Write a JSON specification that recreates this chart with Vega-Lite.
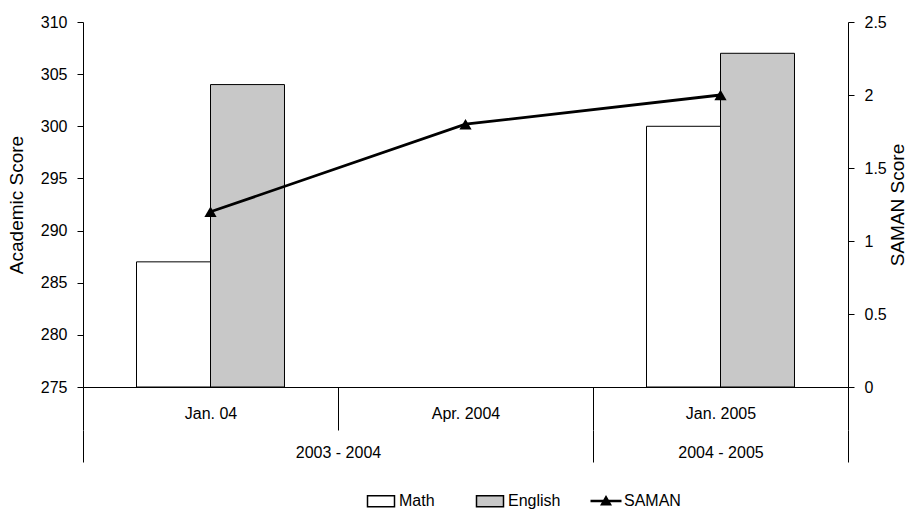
{
  "$schema": "https://vega.github.io/schema/vega-lite/v6.json",
  "width": 765,
  "height": 365,
  "autosize": {"type": "none"},
  "padding": {"left": 83, "top": 22, "right": 63, "bottom": 127},
  "background": "white",
  "config": {
    "view": {"stroke": null},
    "font": "Liberation Sans",
    "axis": {
      "labelFont": "Liberation Sans",
      "titleFont": "Liberation Sans",
      "labelColor": "black",
      "titleColor": "black",
      "domainColor": "black",
      "tickColor": "black",
      "grid": false,
      "labelFontSize": 16,
      "titleFontSize": 19,
      "titleFontWeight": "normal",
      "labelFlush": false,
      "labelOverlap": false
    },
    "legend": {"labelFont": "Liberation Sans", "labelColor": "black"}
  },
  "datasets": {
    "scores": [
      {"date": "Jan. 04", "series": "Math", "score": 287},
      {"date": "Jan. 04", "series": "English", "score": 304},
      {"date": "Jan. 2005", "series": "Math", "score": 300},
      {"date": "Jan. 2005", "series": "English", "score": 307}
    ],
    "saman": [
      {"date": "Jan. 04", "series": "SAMAN", "saman": 1.2},
      {"date": "Apr. 2004", "series": "SAMAN", "saman": 1.8},
      {"date": "Jan. 2005", "series": "SAMAN", "saman": 2.0}
    ],
    "periods": [
      {"period": "2003 - 2004", "points": 2},
      {"period": "2004 - 2005", "points": 1}
    ]
  },
  "layer": [
    {
      "layer": [
        {
          "data": {"name": "scores"},
          "mark": {"type": "bar", "stroke": "black", "strokeWidth": 1},
          "encoding": {
            "x": {
              "field": "date",
              "type": "nominal",
              "sort": ["Jan. 04", "Apr. 2004", "Jan. 2005"],
              "scale": {"domain": ["Jan. 04", "Apr. 2004", "Jan. 2005"], "paddingInner": 0, "paddingOuter": 0},
              "axis": {
                "title": null,
                "labelAngle": 0,
                "tickBand": "extent",
                "tickSize": 43,
                "labelPadding": -25,
                "labelFontSize": 16
              }
            },
            "xOffset": {
              "field": "series",
              "type": "nominal",
              "sort": ["Math", "English"],
              "scale": {"domain": ["Math", "English"], "paddingInner": 0, "paddingOuter": 0.723}
            },
            "y": {
              "field": "score",
              "type": "quantitative",
              "scale": {"domain": [275, 310], "nice": false, "zero": false},
              "axis": {
                "title": "Academic Score",
                "values": [275, 280, 285, 290, 295, 300, 305, 310],
                "format": "d",
                "tickSize": 6,
                "labelPadding": 10,
                "titlePadding": 14
              }
            },
            "y2": {"datum": 275},
            "fill": {
              "field": "series",
              "type": "nominal",
              "sort": ["Math", "English"],
              "scale": {"domain": ["Math", "English"], "range": ["white", "#c8c8c8"]},
              "legend": {
                "title": null,
                "orient": "none",
                "direction": "horizontal",
                "legendX": 287,
                "legendY": 468,
                "padding": 0,
                "symbolSize": 400,
                "symbolType": "M-1.35,-0.55H1.35V0.55H-1.35Z",
                "labelFontSize": 16,
                "labelOffset": 7,
                "columnPadding": 38,
                "encode": {
                  "symbols": {
                    "update": {
                      "stroke": {"value": "black"},
                      "strokeWidth": {"value": 1},
                      "opacity": {"value": 1}
                    }
                  }
                }
              }
            }
          }
        },
        {
          "data": {"name": "saman"},
          "encoding": {
            "x": {
              "field": "date",
              "type": "nominal",
              "sort": ["Jan. 04", "Apr. 2004", "Jan. 2005"],
              "scale": {"domain": ["Jan. 04", "Apr. 2004", "Jan. 2005"], "paddingInner": 0, "paddingOuter": 0}
            },
            "y": {
              "field": "saman",
              "type": "quantitative",
              "scale": {"domain": [0, 2.5], "nice": false},
              "axis": {
                "orient": "right",
                "title": "SAMAN Score",
                "titleAngle": -90,
                "titleBaseline": "top",
                "values": [0, 0.5, 1, 1.5, 2, 2.5],
                "format": "~g",
                "tickSize": 6,
                "labelPadding": 10,
                "titlePadding": 2
              }
            }
          },
          "layer": [
            {"mark": {"type": "line", "color": "black", "strokeWidth": 2.8}},
            {
              "mark": {"type": "point", "shape": "triangle-up", "filled": true, "fill": "black", "size": 150},
              "encoding": {
                "opacity": {
                  "field": "series",
                  "type": "nominal",
                  "scale": {"domain": ["SAMAN"], "range": [1]},
                  "legend": {
                    "title": null,
                    "orient": "none",
                    "direction": "horizontal",
                    "legendX": 512,
                    "legendY": 468,
                    "padding": 0,
                    "symbolSize": 400,
                    "symbolType": "M-1.55,-0.12H1.55V0.12H-1.55Z M0,-0.6L0.6,0.45H-0.6Z",
                    "symbolFillColor": "black",
                    "labelFontSize": 16,
                    "labelOffset": 7,
                    "encode": {
                      "symbols": {
                        "update": {
                          "fill": {"value": "black"},
                          "stroke": {"value": "black"},
                          "strokeWidth": {"value": 0.5}
                        }
                      }
                    }
                  }
                }
              }
            }
          ]
        }
      ],
      "resolve": {"scale": {"y": "independent"}}
    },
    {
      "data": {"name": "periods"},
      "mark": {"type": "bar", "opacity": 0},
      "encoding": {
        "x": {
          "field": "points",
          "type": "quantitative",
          "stack": "zero",
          "scale": {"domain": [0, 3], "nice": false, "zero": true},
          "axis": {
            "orient": "bottom",
            "offset": 43,
            "title": null,
            "domain": false,
            "values": [0, 1, 2, 2.5, 3],
            "labelExpr": "datum.value == 1 ? '2003 - 2004' : (datum.value == 2.5 ? '2004 - 2005' : '')",
            "tickSize": 32,
            "tickOpacity": {"condition": {"test": "datum.value == 1 || datum.value == 2.5", "value": 0}, "value": 1},
            "labelPadding": -18,
            "labelFontSize": 16
          }
        },
        "detail": {"field": "period", "type": "nominal"}
      }
    }
  ],
  "resolve": {"scale": {"x": "independent"}}
}
